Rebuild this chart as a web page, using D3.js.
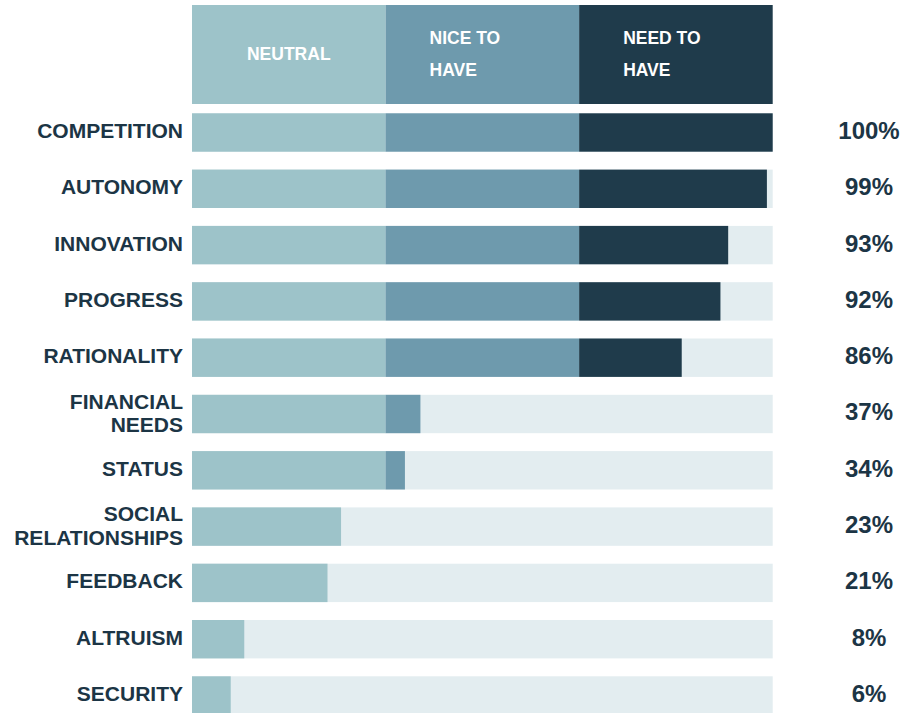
<!DOCTYPE html>
<html lang="en">
<head>
<meta charset="utf-8">
<title>Needs</title>
<script src="https://d3js.org/d3.v7.min.js"></script>
<style>
  body { margin: 0; background: #fff; }
  svg text { font-family: "Liberation Sans", Arial, sans-serif; font-weight: bold; }
</style>
</head>
<body>
<div id="chart"></div>
<script>
// data
const categories = ["COMPETITION", "AUTONOMY", "INNOVATION", "PROGRESS", "RATIONALITY",
  "FINANCIAL NEEDS", "STATUS", "SOCIAL RELATIONSHIPS", "FEEDBACK", "ALTRUISM", "SECURITY"];
// bar length on the 0-3 scale (neutral / nice to have / need to have)
const scores = [3.0, 2.97, 2.77, 2.73, 2.53, 1.18, 1.10, 0.77, 0.70, 0.27, 0.20];
const percentLabels = ["100%", "99%", "93%", "92%", "86%", "37%", "34%", "23%", "21%", "8%", "6%"];
const levels = ["NEUTRAL", "NICE TO HAVE", "NEED TO HAVE"];
const levelColors = ["#9dc3c9", "#6e9aad", "#1f3b4b"];

const width = 905, height = 713;
const trackColor = "#e3edf0";
const textColor = "#1c3545";

const svg = d3.select("#chart").append("svg")
  .attr("width", width)
  .attr("height", height);

const x = d3.scaleLinear().domain([0, 3]).range([192, 772.7]);
const y = d3.scaleBand().domain(categories).range([113.3, 714.7]).paddingInner(0.318);

const rows = categories.map((c, i) => ({ name: c, score: scores[i], pct: percentLabels[i] }));

// header
const header = svg.append("g").attr("class", "header");
header.selectAll("rect")
  .data(levels)
  .enter().append("rect")
  .attr("x", (d, i) => x(i))
  .attr("width", (d, i) => x(i + 1) - x(i))
  .attr("y", 5)
  .attr("height", 99)
  .attr("fill", (d, i) => levelColors[i]);

header.append("text")
  .attr("x", (x(0) + x(1)) / 2)
  .attr("y", 60)
  .attr("text-anchor", "middle")
  .attr("fill", "#fff")
  .style("font-size", "17.5px")
  .text(levels[0]);

levels.slice(1).forEach((lv, k) => {
  const i = k + 1;
  const words = lv.split(" ");
  const t = header.append("text")
    .attr("fill", "#fff")
    .style("font-size", "17.5px");
  t.append("tspan").attr("x", x(i) + 44).attr("y", 44.3).text(words.slice(0, 2).join(" "));
  t.append("tspan").attr("x", x(i) + 44).attr("y", 76).text(words.slice(2).join(" "));
});

// rows
const row = svg.append("g").attr("class", "bars")
  .selectAll("g")
  .data(rows)
  .enter().append("g")
  .attr("transform", d => `translate(0, ${y(d.name)})`);

row.append("rect")
  .attr("x", x(0))
  .attr("width", x(3) - x(0))
  .attr("height", y.bandwidth())
  .attr("fill", trackColor);

levels.forEach((lv, i) => {
  row.filter(d => d.score > i)
    .append("rect")
    .attr("x", x(i))
    .attr("width", d => x(Math.min(d.score, i + 1)) - x(i))
    .attr("height", y.bandwidth())
    .attr("fill", levelColors[i]);
});

// category labels
row.each(function(d) {
  const g = d3.select(this);
  const mid = y.bandwidth() / 2;
  const words = d.name.split(" ");
  const lines = words.length > 1 ? words : [d.name];
  const off = lines.length > 1 ? 6.5 : 5.5;
  const t = g.append("text")
    .attr("text-anchor", "end")
    .attr("fill", textColor)
    .style("font-size", "21px");
  lines.forEach((w, j) => {
    t.append("tspan")
      .attr("x", 183)
      .attr("y", mid + off + (j - (lines.length - 1) / 2) * 23.4)
      .text(w);
  });
});

// percent labels
row.append("text")
  .attr("x", 869)
  .attr("y", y.bandwidth() / 2 + 6.5)
  .attr("text-anchor", "middle")
  .attr("fill", textColor)
  .style("font-size", "24px")
  .text(d => d.pct);
</script>
</body>
</html>
